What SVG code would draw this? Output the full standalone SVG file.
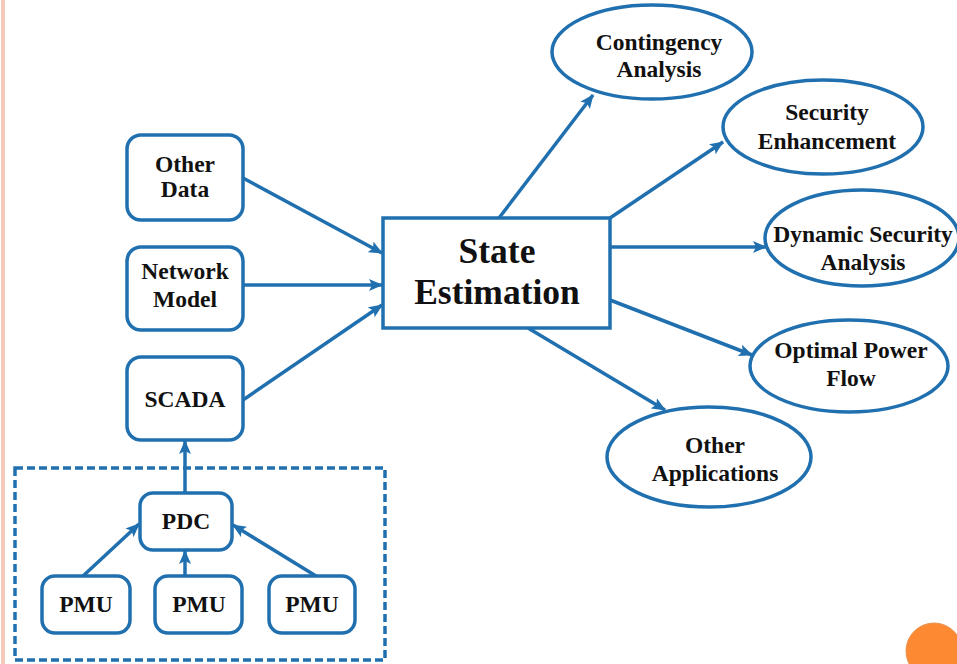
<svg xmlns="http://www.w3.org/2000/svg" width="957" height="664" viewBox="0 0 957 664">
  <defs>
    <style>
      .box { fill: #ffffff; stroke: #2070b0; stroke-width: 3.5; }
      .app { fill: #ffffff; stroke: #2070b0; stroke-width: 3.5; }
      .wire { fill: none; stroke: #2070b0; stroke-width: 3.5; marker-end: url(#head); }
      .lbl { font-family: "Liberation Serif", "Times New Roman", serif; font-weight: bold; font-size: 23.5px; fill: #111111; text-anchor: middle; }
      .big { font-size: 35.5px; }
    </style>
    <marker id="head" viewBox="0 0 14 12" refX="13" refY="6" markerWidth="14" markerHeight="12" markerUnits="userSpaceOnUse" orient="auto">
      <path d="M0,0 L14,6 L0,12 L3,6 Z" fill="#2070b0"/>
    </marker>
  </defs>

  <rect width="957" height="664" fill="#ffffff"/>
  <!-- page margin strip -->
  <rect x="1" y="0" width="4" height="664" fill="#f3c9b9"/>
  <!-- corner dot -->
  <circle cx="934" cy="651" r="28" fill="#fd8a33" stroke="#e9924f" stroke-width="1"/>

  <!-- PMU / PDC cluster outline -->
  <rect x="15" y="468" width="370" height="192" fill="none" stroke="#2070b0" stroke-width="3.5" stroke-dasharray="8 4"/>

  <g id="connectors">
    <line class="wire" x1="243" y1="178" x2="382" y2="253"/>
    <line class="wire" x1="243" y1="285" x2="382" y2="285"/>
    <line class="wire" x1="243" y1="400" x2="382" y2="305"/>
    <line class="wire" x1="185" y1="493" x2="185" y2="441"/>
    <line class="wire" x1="83" y1="576" x2="139" y2="524"/>
    <line class="wire" x1="185" y1="576" x2="185" y2="551"/>
    <line class="wire" x1="316" y1="576" x2="233" y2="525"/>
    <line class="wire" x1="499" y1="218" x2="593" y2="95"/>
    <line class="wire" x1="610" y1="218" x2="723" y2="142"/>
    <line class="wire" x1="610" y1="247" x2="766" y2="247"/>
    <line class="wire" x1="610" y1="300" x2="752" y2="355"/>
    <line class="wire" x1="528" y1="328" x2="665" y2="410"/>
  </g>

  <g id="other-data">
    <rect class="box" x="127" y="135" width="116" height="85" rx="14"/>
    <text class="lbl" x="185" y="172">Other</text>
    <text class="lbl" x="185" y="197">Data</text>
  </g>
  <g id="network-model">
    <rect class="box" x="127" y="247" width="116" height="83" rx="14"/>
    <text class="lbl" x="185" y="279">Network</text>
    <text class="lbl" x="185" y="307">Model</text>
  </g>
  <g id="scada">
    <rect class="box" x="127" y="357" width="116" height="83" rx="14"/>
    <text class="lbl" x="185" y="407">SCADA</text>
  </g>
  <g id="pdc">
    <rect class="box" x="140" y="493" width="92" height="57" rx="13"/>
    <text class="lbl" x="186" y="529">PDC</text>
  </g>
  <g id="pmu-1">
    <rect class="box" x="42" y="576" width="88" height="57" rx="13"/>
    <text class="lbl" x="86" y="612">PMU</text>
  </g>
  <g id="pmu-2">
    <rect class="box" x="155" y="576" width="87" height="57" rx="13"/>
    <text class="lbl" x="199" y="612">PMU</text>
  </g>
  <g id="pmu-3">
    <rect class="box" x="269" y="576" width="86" height="57" rx="13"/>
    <text class="lbl" x="312" y="612">PMU</text>
  </g>

  <g id="state-estimation">
    <rect class="box" x="383" y="218" width="227" height="110" stroke-width="4"/>
    <text class="lbl big" x="497" y="263">State</text>
    <text class="lbl big" x="497" y="304">Estimation</text>
  </g>

  <g id="contingency-analysis">
    <ellipse class="app" cx="652" cy="52" rx="100" ry="47"/>
    <text class="lbl" x="659" y="50">Contingency</text>
    <text class="lbl" x="659" y="77">Analysis</text>
  </g>
  <g id="security-enhancement">
    <ellipse class="app" cx="823" cy="127" rx="100" ry="47"/>
    <text class="lbl" x="827" y="120">Security</text>
    <text class="lbl" x="827" y="149">Enhancement</text>
  </g>
  <g id="dynamic-security-analysis">
    <ellipse class="app" cx="862" cy="238" rx="97" ry="48"/>
    <text class="lbl" x="863" y="242">Dynamic Security</text>
    <text class="lbl" x="863" y="270">Analysis</text>
  </g>
  <g id="optimal-power-flow">
    <ellipse class="app" cx="849" cy="366" rx="99" ry="46"/>
    <text class="lbl" x="851" y="358">Optimal Power</text>
    <text class="lbl" x="851" y="386">Flow</text>
  </g>
  <g id="other-applications">
    <ellipse class="app" cx="709" cy="457" rx="102" ry="50"/>
    <text class="lbl" x="715" y="453">Other</text>
    <text class="lbl" x="715" y="481">Applications</text>
  </g>
</svg>
